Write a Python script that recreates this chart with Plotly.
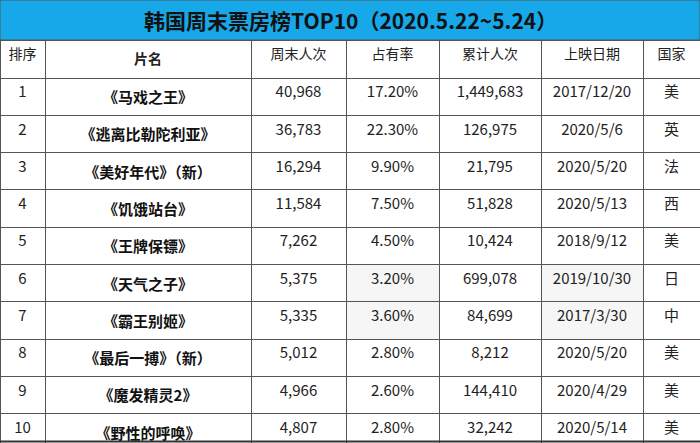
import plotly.graph_objects as go

title = "韩国周末票房榜TOP10（2020.5.22~5.24）"
headers = ["排序", "片名", "周末人次", "占有率", "累计人次", "上映日期", "国家"]

rank = ["1", "2", "3", "4", "5", "6", "7", "8", "9", "10"]
films = ["《马戏之王》", "《逃离比勒陀利亚》", "《美好年代》（新）", "《饥饿站台》", "《王牌保镖》",
         "《天气之子》", "《霸王别姬》", "《最后一搏》（新）", "《魔发精灵2》", "《野性的呼唤》"]
weekend = ["40,968", "36,783", "16,294", "11,584", "7,262", "5,375", "5,335", "5,012", "4,966", "4,807"]
share = ["17.20%", "22.30%", "9.90%", "7.50%", "4.50%", "3.20%", "3.60%", "2.80%", "2.60%", "2.80%"]
total = ["1,449,683", "126,975", "21,795", "51,828", "10,424", "699,078", "84,699", "8,212", "144,410", "32,242"]
release = ["2017/12/20", "2020/5/6", "2020/5/20", "2020/5/13", "2018/9/12",
           "2019/10/30", "2017/3/30", "2020/5/20", "2020/4/29", "2020/5/14"]
country = ["美", "英", "法", "西", "美", "日", "中", "美", "美", "美"]

W, H = 700, 443
TITLE_H = 40
FONT = "Noto Sans CJK SC"
LINE = "#555555"

# very light grey shading seen on a few cells
shade = ["#f6f6f6" if i in (5, 6) else "white" for i in range(10)]
white = ["white"] * 10
fills = [white, white, white, shade, white, shade, white]

fig = go.Figure(go.Table(
    domain=dict(x=[0, 1], y=[0, 1 - TITLE_H / H]),
    columnwidth=[45, 206, 95, 93, 102, 102, 57],
    header=dict(
        values=["排序", "<b>片名</b>"] + headers[2:],
        height=38,
        align="center",
        fill_color="white",
        line=dict(color=LINE, width=1),
        font=dict(family=FONT, size=14, color="#222"),
    ),
    cells=dict(
        values=[rank, ["<b>%s</b>" % f for f in films], weekend, share, total, release, country],
        height=37.3,
        align="center",
        fill_color=fills,
        line=dict(color=LINE, width=1),
        font=dict(family=FONT, size=15, color=["#222", "#111", "#222", "#222", "#222", "#222", "#222"]),
    ),
))

# title bar
fig.add_shape(type="rect", xref="paper", yref="paper", x0=0, x1=1, y0=1 - TITLE_H / H, y1=1,
              fillcolor="#16a8e8", line=dict(color=LINE, width=1))
fig.add_shape(type="line", xref="paper", yref="paper", x0=0, x1=1, y0=1.5 / H, y1=1.5 / H,
              line=dict(color="#333", width=2))
fig.add_annotation(text="<b>%s</b>" % title, xref="paper", yref="paper", x=0.5, y=1 - TITLE_H / 2 / H,
                   yanchor="middle", showarrow=False, font=dict(family=FONT, size=21, color="#111"))

fig.update_layout(width=W, height=H, margin=dict(l=0, r=0, t=0, b=0),
                  paper_bgcolor="white", plot_bgcolor="white")

fig.write_html("out.html", config={"displayModeBar": False},
               post_script="document.body.style.margin='0';")
